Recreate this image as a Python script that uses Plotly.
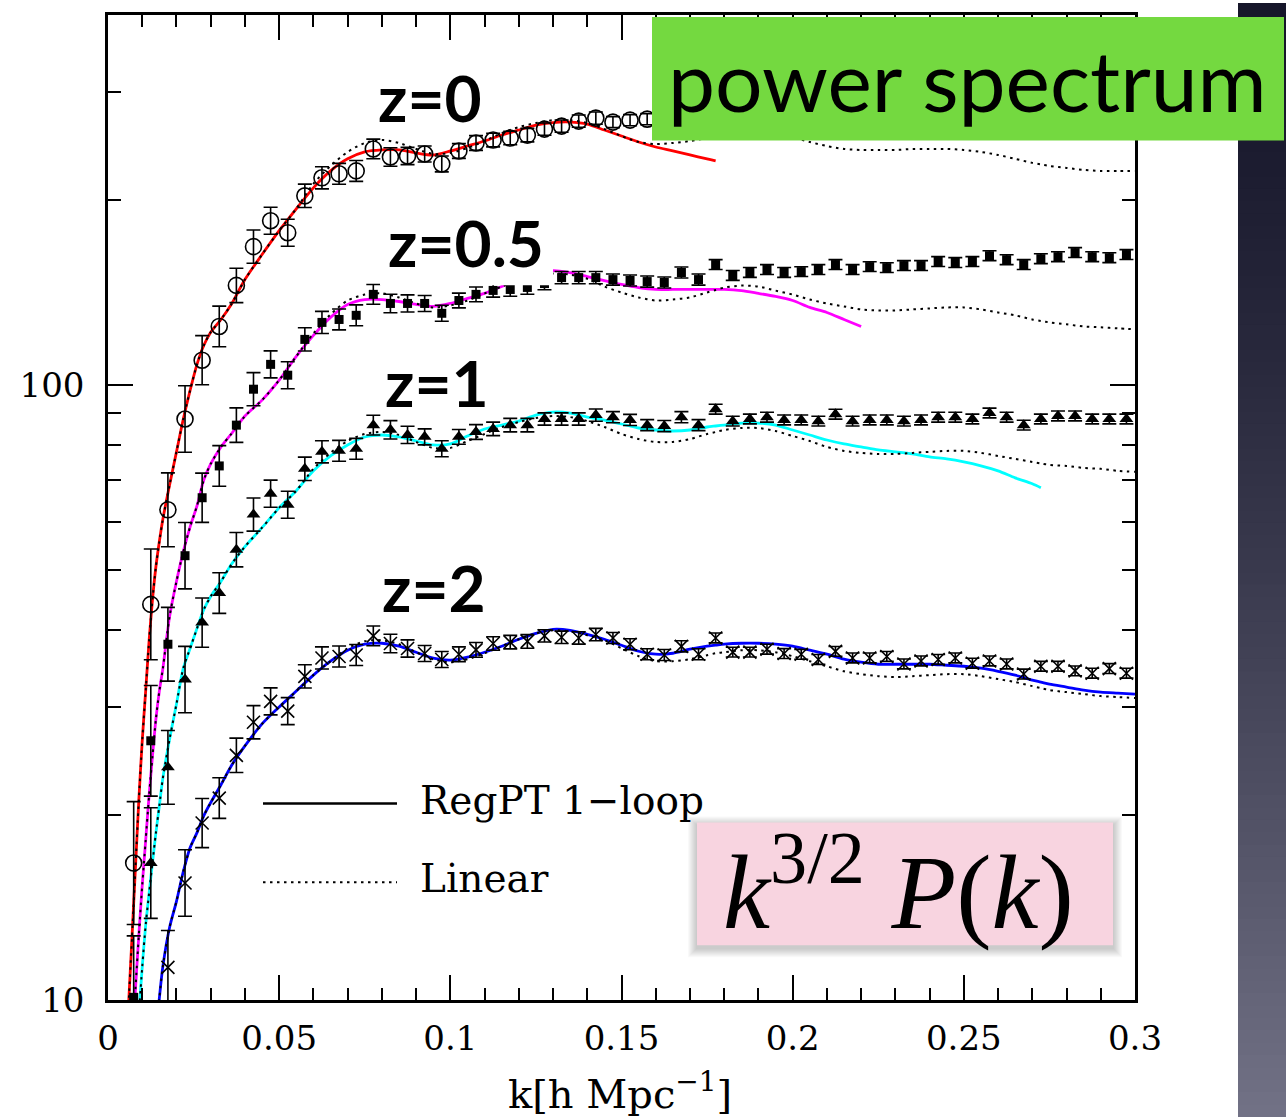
import plotly.graph_objects as go

# ---------------------------------------------------------------------------
# N-body measurements of k^{3/2} P(k)  (k bins in h/Mpc)
# ---------------------------------------------------------------------------
k_sim = [0.0075, 0.0125, 0.0175, 0.0225, 0.0275, 0.0325, 0.0375, 0.0425, 0.0475, 0.0525,
         0.0575, 0.0625, 0.0675, 0.0725, 0.0775, 0.0825, 0.0875, 0.0925, 0.0975, 0.1025,
         0.1075, 0.1125, 0.1175, 0.1225, 0.1275, 0.1325, 0.1375, 0.1425, 0.1475, 0.1525,
         0.1575, 0.1625, 0.1675, 0.1725, 0.1775, 0.1825, 0.1875, 0.1925, 0.1975, 0.2025,
         0.2075, 0.2125, 0.2175, 0.2225, 0.2275, 0.2325, 0.2375, 0.2425, 0.2475, 0.2525,
         0.2575, 0.2625, 0.2675, 0.2725, 0.2775, 0.2825, 0.2875, 0.2925, 0.2975]

# z=0 (bins beyond k=0.16 sit under the title banner)
sim_z0 = [16.7, 44.0, 62.7, 88.1, 109.8, 124.6, 145.3, 168.0, 185.1, 177.0,
          203.2, 217.4, 220.7, 223.1, 242.2, 235.0, 235.9, 237.7, 229.0, 240.4,
          247.7, 250.4, 252.3, 255.1, 260.9, 263.8, 268.8, 271.9, 267.8, 269.8,
          270.8]

sim_z05 = [10.1, 26.4, 37.9, 52.8, 65.6, 73.9, 86.1, 98.5, 108.1, 103.8,
           118.7, 126.5, 127.9, 129.9, 140.5, 135.8, 135.8, 135.8, 130.9, 137.3,
           140.5, 142.6, 143.1, 144.2, 146.3, 149.6, 149.6, 149.6, 148.5, 148.0,
           147.4, 146.9, 152.5, 148.5, 157.1, 150.8, 152.5, 154.2, 152.5, 153.0,
           154.2, 157.1, 154.2, 155.9, 155.3, 156.5, 156.5, 158.9, 158.3, 158.9,
           162.4, 160.0, 157.1, 160.6, 161.8, 164.3, 161.8, 161.2, 163.1]

sim_z1 = [None, 16.7, 23.9, 33.2, 41.1, 45.9, 54.0, 61.6, 66.6, 63.9,
          73.1, 77.9, 78.2, 78.8, 86.1, 84.6, 83.0, 82.4, 78.8, 82.4,
          83.9, 84.9, 86.1, 86.1, 88.1, 88.1, 88.1, 89.4, 88.7, 87.8,
          86.1, 85.8, 88.7, 86.1, 91.4, 87.4, 88.1, 88.7, 87.8, 87.8,
          87.4, 89.7, 87.4, 87.8, 87.8, 87.4, 87.8, 88.7, 88.7, 88.1,
          90.1, 88.7, 86.1, 88.1, 89.1, 89.1, 88.1, 88.1, 88.1]

sim_z2 = [None, None, 11.3, 15.5, 19.4, 21.3, 25.0, 28.3, 30.6, 29.5,
          33.6, 36.0, 36.2, 36.4, 39.1, 38.0, 37.3, 36.6, 35.8, 36.5,
          37.1, 38.0, 38.2, 38.3, 39.1, 38.9, 38.8, 39.3, 38.8, 37.9,
          36.5, 36.4, 37.6, 36.5, 38.8, 36.8, 36.8, 37.2, 36.6, 36.5,
          35.8, 36.9, 36.0, 36.0, 36.2, 35.2, 35.6, 35.8, 36.0, 35.3,
          35.6, 35.2, 33.9, 34.9, 34.9, 34.3, 34.0, 34.6, 34.0]

# 1-sigma scatter per k bin, in dex
err_dex = [0.100, 0.090, 0.060, 0.054, 0.040, 0.033, 0.028, 0.027, 0.022, 0.022,
           0.019, 0.018, 0.017, 0.017, 0.016, 0.015, 0.014, 0.013, 0.013, 0.012,
           0.012, 0.011, 0.011, 0.011, 0.010, 0.010, 0.010, 0.010, 0.009, 0.009,
           0.009, 0.009, 0.009, 0.009, 0.008, 0.008, 0.008, 0.008, 0.008, 0.008,
           0.008, 0.008, 0.008, 0.008, 0.008, 0.008, 0.008, 0.008, 0.008, 0.008,
           0.008, 0.008, 0.008, 0.008, 0.008, 0.008, 0.008, 0.008, 0.008]

# ---------------------------------------------------------------------------
# Theory: RegPT 1-loop and linear theory, k^{3/2} P(k)
# ---------------------------------------------------------------------------
k_th = [0.005, 0.006, 0.007, 0.008, 0.009, 0.010, 0.011, 0.012, 0.013, 0.014, 0.015, 0.016,
        0.018, 0.020, 0.022, 0.024, 0.026, 0.028, 0.030, 0.033, 0.036, 0.040, 0.045, 0.050, 0.055,
        0.060, 0.065, 0.070, 0.075, 0.080, 0.085, 0.090, 0.095, 0.100, 0.105, 0.110, 0.115, 0.120,
        0.125, 0.130, 0.135, 0.140, 0.145, 0.150, 0.155, 0.160, 0.165, 0.170, 0.175, 0.1775,
        0.180, 0.185, 0.190, 0.195, 0.200, 0.205, 0.210, 0.215, 0.220, 0.225, 0.230, 0.235,
        0.240, 0.245, 0.250, 0.255, 0.260, 0.265, 0.270, 0.2725, 0.275, 0.280, 0.285, 0.290,
        0.295, 0.300]

N = None
regpt_z0 = [7.56, 9.81, 12.60, 16.36, 21.10, 26.38, 31.80, 38.33, 44.82, 50.70, 55.68, 60.43,
            68.85, 77.90, 88.08, 98.15, 108.1, 116.1, 121.9, 127.9, 135.3, 148.5, 163.1, 178.4, 193.6,
            209.4, 223.1, 233.4, 239.5, 241.3, 241.3, 238.6, 236.8, 240.4, 244.9, 249.5, 255.2, 260.0,
            264.9, 267.4, 267.9, 265.9, 260.0, 254.2, 248.6, 244.0, 240.4, 236.8, 233.4, 231.6,
            N, N, N, N, N, N, N, N, N, N, N, N, N, N, N, N, N, N, N, N, N, N, N, N, N, N]
linear_z0 = [7.56, 9.81, 12.60, 16.36, 21.10, 26.38, 31.80, 38.33, 44.82, 50.70, 55.68, 60.43,
             68.85, 77.90, 88.08, 98.15, 108.1, 116.1, 121.9, 127.9, 135.3, 148.5, 163.1, 178.4, 193.6,
             212.6, 227.3, 239.5, 247.7, 250.5, 247.7, 242.2, 237.7, 238.6, 243.1, 249.5, 257.1, 262.9,
             266.9, 269.8, 269.8, 266.9, 260.9, 254.2, 248.6, 246.7, 247.7, 249.5, 252.3, 254.2,
             256.1, 259.0, 260.0, 258.0, 253.3, 248.6, 244.9, 242.2, 241.3, 241.3, 241.3, 242.2,
             242.2, 242.2, 241.3, 239.5, 236.8, 233.4, 229.9, 228.6, 227.3, 225.6, 223.9, 223.1,
             223.1, 223.1]

regpt_z05 = [N, N, 8.45, 10.38, 12.74, 15.36, 18.17, 21.50, 24.95, 28.65, 31.80, 34.52,
             42.07, 47.95, 53.63, 58.87, 63.66, 70.15, 74.47, 79.35, 83.29, 89.08, 94.56, 101.9, 111.4,
             120.5, 128.9, 135.3, 137.8, 137.8, 136.8, 135.3, 134.3, 135.8, 138.4, 141.0, 144.7, 147.9,
             151.3, 153.6, 152.4, 150.2, 147.9, 145.8, 144.1, 143.1, 143.1, 143.1, 143.1, 143.1,
             143.1, 142.5, 141.0, 139.4, 137.3, 133.8, 131.3, 127.9, 124.6,
             N, N, N, N, N, N, N, N, N, N, N, N, N, N, N, N, N]
linear_z05 = [N, N, 8.45, 10.38, 12.74, 15.36, 18.17, 21.50, 24.95, 28.65, 31.80, 34.52,
              42.07, 47.95, 53.63, 58.87, 63.66, 70.15, 74.47, 79.35, 83.29, 89.08, 94.56, 101.9, 111.4,
              121.4, 130.3, 137.3, 140.4, 141.0, 138.9, 135.8, 133.8, 134.8, 137.3, 141.0, 144.7, 147.9,
              150.7, 151.9, 151.3, 149.0, 144.7, 141.5, 138.9, 137.3, 137.8, 138.9, 141.5, 142.8,
              144.1, 145.2, 144.7, 142.5, 140.4, 137.8, 135.8, 134.3, 132.8, 132.3, 132.3, 132.8,
              133.3, 133.8, 133.8, 132.8, 131.3, 129.9, 127.9, 127.2, 126.5, 125.6, 124.6, 124.2,
              123.7, 123.3]

regpt_z1 = [N, N, N, N, 9.46, 11.31, 13.23, 14.91, 16.74, 18.72, 20.70, 22.90,
            26.58, 30.30, 34.65, 37.33, 40.22, 43.18, 45.33, 47.95, 51.08, 54.63, 58.64, 63.18, 67.34,
            72.55, 76.72, 79.95, 82.36, 82.98, 82.36, 81.13, 79.95, 80.23, 82.67, 84.85, 86.13, 87.42,
            89.41, 90.42, 90.08, 88.74, 87.76, 86.46, 85.18, 84.54, 84.23, 84.54, 85.50, 85.82,
            86.13, 86.78, 86.78, 86.13, 84.54, 82.98, 81.43, 80.23, 79.35, 78.46, 77.90, 77.29,
            76.43, 75.86, 75.02, 73.91, 72.55, 70.67, 69.11, 68.09, N, N, N, N, N, N]
linear_z1 = [N, N, N, N, 9.46, 11.31, 13.23, 14.91, 16.74, 18.72, 20.70, 22.90,
             26.58, 30.30, 34.65, 37.33, 40.22, 43.18, 45.33, 47.95, 51.08, 54.63, 58.64, 63.18, 67.34,
             73.10, 77.60, 81.13, 83.29, 83.92, 82.98, 80.83, 79.06, 79.06, 81.13, 83.29, 85.50, 87.10,
             88.42, 89.08, 88.74, 87.42, 85.50, 83.29, 81.73, 80.83, 80.83, 81.73, 83.29, 83.92,
             84.54, 85.18, 85.18, 84.23, 82.67, 81.13, 79.35, 78.18, 77.60, 77.29, 77.29, 77.60,
             77.90, 78.18, 78.18, 77.60, 76.72, 75.86, 75.02, 74.60, 74.19, 73.91, 73.35, 73.10,
             72.55, 72.28]

regpt_z2 = [N, N, N, N, N, N, N, N, N, 8.94, 10.07, 11.31,
            13.13, 14.47, 16.18, 17.70, 18.72, 19.95, 20.94, 22.39, 24.03, 25.90, 28.12, 29.96, 31.80,
            33.76, 35.57, 37.06, 37.90, 38.04, 37.62, 36.78, 35.97, 35.70, 36.10, 36.78, 37.62, 38.62,
            39.48, 40.08, 39.93, 39.34, 38.62, 37.76, 36.92, 36.51, 36.64, 37.20, 37.62, 37.76,
            37.90, 38.04, 38.04, 37.90, 37.62, 37.06, 36.51, 35.83, 35.43, 35.16, 35.16, 35.16,
            35.16, 35.03, 34.90, 34.65, 34.25, 33.76, 33.13, 32.89, 32.64, 32.28, 31.92, 31.68,
            31.56, 31.45]
linear_z2 = [N, N, N, N, N, N, N, N, N, 8.94, 10.07, 11.31,
             13.13, 14.47, 16.18, 17.70, 18.72, 19.95, 20.94, 22.39, 24.03, 25.90, 28.12, 29.96, 31.80,
             33.76, 35.57, 37.33, 38.33, 38.47, 37.90, 36.78, 35.83, 35.43, 35.83, 36.64, 37.62, 38.62,
             39.48, 39.93, 39.78, 39.19, 38.47, 37.33, 36.24, 35.57, 35.57, 35.83, 36.38, 36.64,
             36.78, 37.06, 37.06, 36.78, 36.24, 35.57, 34.90, 34.25, 33.88, 33.63, 33.51, 33.63,
             33.76, 33.88, 33.88, 33.63, 33.26, 32.89, 32.40, 32.16, 31.92, 31.68, 31.45, 31.21,
             31.10, 30.98]

x_ticks = [0, 0.05, 0.1, 0.15, 0.2, 0.25, 0.3]
x_ticktext = ["0", "0.05", "0.1", "0.15", "0.2", "0.25", "0.3"]
y_ticks = [10, 100]
y_ticktext = ["10", "100"]
y_minor = [20, 30, 40, 50, 60, 70, 80, 90, 200, 300]

# ---------------------------------------------------------------------------
fig = go.Figure()

DOT = "2.5px,4.5px"
series = [
    (regpt_z0, linear_z0, "#ff0000"),
    (regpt_z05, linear_z05, "#ff00ff"),
    (regpt_z1, linear_z1, "#00ffff"),
    (regpt_z2, linear_z2, "#0000ff"),
]
for reg, lin, col in series:
    fig.add_trace(go.Scatter(x=k_th, y=reg, mode="lines",
                             line=dict(color=col, width=2.8, shape="spline", smoothing=0.8)))
for reg, lin, col in series:
    fig.add_trace(go.Scatter(x=k_th, y=lin, mode="lines",
                             line=dict(color="black", width=2, dash=DOT, shape="spline", smoothing=0.8)))


def bars(vals):
    up, dn = [], []
    for v, d in zip(vals, err_dex):
        if v is None:
            up.append(0)
            dn.append(0)
        else:
            up.append(v * (10 ** d - 1))
            dn.append(v * (1 - 10 ** (-d)))
    return up, dn


markers = [
    (sim_z0, dict(symbol="circle-open", size=16, color="black", line=dict(width=1.6, color="black"))),
    (sim_z05, dict(symbol="square", size=9, color="black")),
    (sim_z1, dict(symbol="triangle-up", size=12, color="black")),
    (sim_z2, dict(symbol="x-thin-open", size=13, color="black", line=dict(width=1.6, color="black"))),
]
for vals, mk in markers:
    up, dn = bars(vals)
    fig.add_trace(go.Scatter(
        x=k_sim[:len(vals)], y=vals, mode="markers", marker=mk,
        error_y=dict(type="data", symmetric=False, array=up, arrayminus=dn,
                     color="black", thickness=1.6, width=7)))

# ---------------------------------------------------------------------------
L, R, T, B = 108, 1135, 12, 1000


def px(x):
    return (x - L) / (R - L)


def py(y):
    return (B - y) / (B - T)


shapes = []

# dark slide edge on the right (vertical gradient, navy to slate)
top_c, bot_c = (22, 22, 42), (114, 114, 134)
nb = 90
for i in range(nb):
    f = ((i + 0.5) / nb) ** 1.4
    c = tuple(int(round(a + (b - a) * f)) for a, b in zip(top_c, bot_c))
    y0 = i * 1117 / nb
    y1 = (i + 1) * 1117 / nb + 1
    shapes.append(dict(type="rect", xref="paper", yref="paper", layer="above",
                       x0=px(1238), x1=px(1290), y0=py(y1), y1=py(y0),
                       fillcolor="rgb(%d,%d,%d)" % c, line=dict(width=0)))

# white patch behind the z=0.5 label
shapes.append(dict(type="rect", xref="paper", yref="paper", layer="above",
                   x0=px(380), x1=px(553), y0=py(283), y1=py(205),
                   fillcolor="white", line=dict(width=0)))

# title banner
shapes.append(dict(type="rect", xref="paper", yref="paper", layer="above",
                   x0=px(652), x1=px(1284), y0=py(138), y1=py(14),
                   fillcolor="#74d940", line=dict(width=0)))

# formula box with soft drop shadow
for s in range(1, 10):
    shapes.append(dict(type="rect", xref="paper", yref="paper", layer="above",
                       x0=px(697 - s), x1=px(1113 + s), y0=py(945 + s + 3), y1=py(822 - s + 3),
                       fillcolor="rgba(0,0,0,0.022)", line=dict(width=0)))
shapes.append(dict(type="rect", xref="paper", yref="paper", layer="above",
                   x0=px(697), x1=px(1113), y0=py(945), y1=py(822),
                   fillcolor="#f8d4e0", line=dict(width=0)))

# legend samples
shapes.append(dict(type="line", xref="paper", yref="paper", layer="above",
                   x0=px(263), x1=px(397), y0=py(803), y1=py(803),
                   line=dict(color="black", width=2.5)))
shapes.append(dict(type="line", xref="paper", yref="paper", layer="above",
                   x0=px(263), x1=px(397), y0=py(882), y1=py(882),
                   line=dict(color="black", width=2, dash=DOT)))

ann = []


def text(x, y, s, size, family, xanchor="center", color="black"):
    ann.append(dict(x=px(x), y=py(y), xref="paper", yref="paper", text=s, showarrow=False,
                    xanchor=xanchor, yanchor="middle",
                    font=dict(family=family, size=size, color=color)))


SANS = "Lato"
SERIF = "DejaVu Serif"
text(430, 95, "<b>z=0</b>", 64, SANS)
text(466, 240, "<b>z=0.5</b>", 64, SANS)
text(437, 381, "<b>z=1</b>", 64, SANS)
text(434, 586, "<b>z=2</b>", 64, SANS)
text(967, 77, "power spectrum", 84, SANS)
text(418, 800, "RegPT 1\u2212loop", 39, SERIF, xanchor="left")
text(418, 878, "Linear", 39, SERIF, xanchor="left")
text(898, 884, "<i>k</i><sup>3/2</sup> <i>P</i>(<i>k</i>)", 106, "Liberation Serif")
text(620, 1091, "k[h Mpc<sup>\u22121</sup>]", 40, SERIF)

fig.update_layout(
    width=1286, height=1117,
    margin=dict(l=L, r=1286 - R, t=T, b=1117 - B),
    paper_bgcolor="white", plot_bgcolor="white",
    showlegend=False, shapes=shapes, annotations=ann,
)

axis_common = dict(
    ticks="inside", tickcolor="black", tickwidth=2,
    showline=True, linecolor="black", linewidth=2.5, mirror="ticks",
    showgrid=False, zeroline=False,
    tickfont=dict(family=SERIF, size=34, color="black"),
)
fig.update_xaxes(range=[0, 0.3], tickvals=x_ticks, ticktext=x_ticktext, ticklen=25,
                 ticklabelstandoff=6,
                 minor=dict(dtick=0.01, tick0=0, ticks="inside", ticklen=12, tickwidth=2,
                            tickcolor="black", showgrid=False),
                 **axis_common)
fig.update_yaxes(type="log", range=[1, 2.60206], tickvals=y_ticks, ticktext=y_ticktext, ticklen=25,
                 ticklabelstandoff=14,
                 minor=dict(tickvals=y_minor, ticks="inside", ticklen=13, tickwidth=2,
                            tickcolor="black", showgrid=False),
                 **axis_common)

fig.write_html("out.html")
